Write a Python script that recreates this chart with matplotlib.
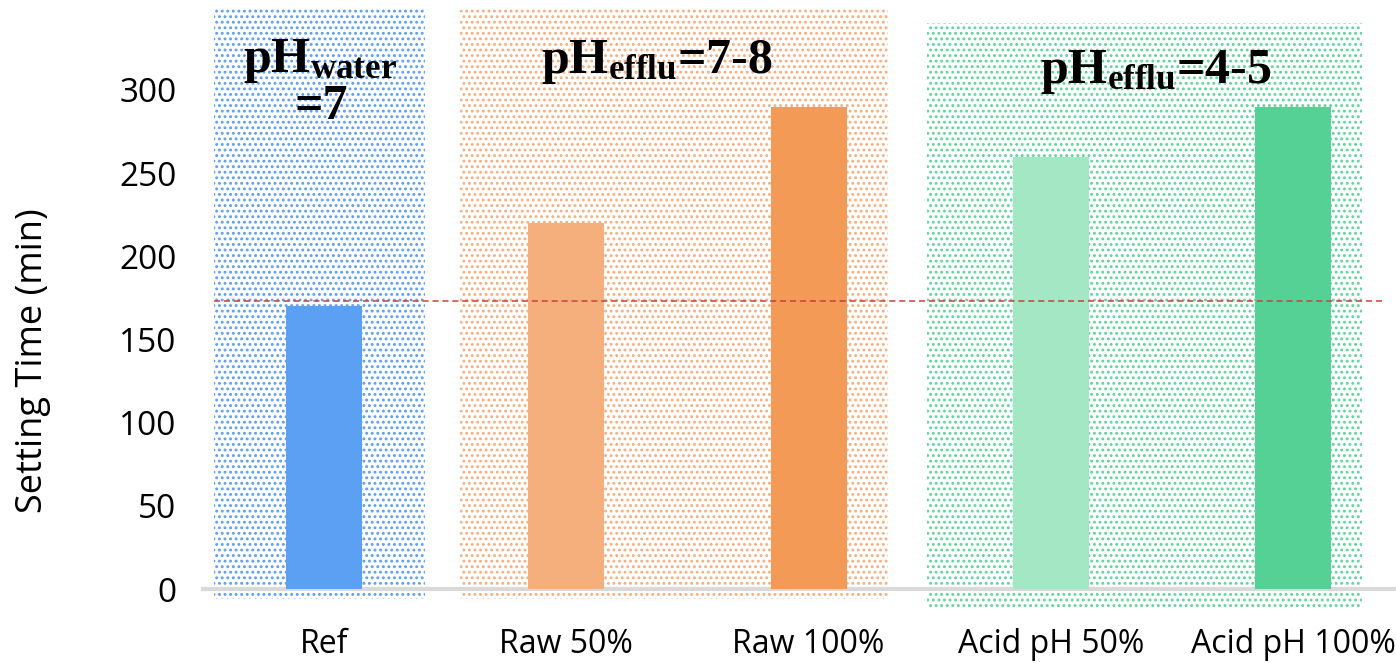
import matplotlib
matplotlib.use("Agg")
import matplotlib.pyplot as plt
from matplotlib.patches import Rectangle

plt.rcParams["font.family"] = ["Open Sans", "DejaVu Sans"]
plt.rcParams["mathtext.fontset"] = "custom"
plt.rcParams["mathtext.rm"] = "Liberation Serif:bold"
plt.rcParams["mathtext.bf"] = "Liberation Serif:bold"
plt.rcParams["mathtext.it"] = "Liberation Serif:bold"
plt.rcParams["hatch.linewidth"] = 1.3

# data
categories = ["Ref", "Raw 50%", "Raw 100%", "Acid pH 50%", "Acid pH 100%"]
setting_time = [170, 220, 290, 260, 290]
ref_line = 173
bar_colors = ["#5BA0F2", "#F5AF7C", "#F29A56", "#A3E7C5", "#56D196"]

group_titles = ["pH$_{\\mathrm{water}}$", "pH$_{\\mathrm{efflu}}$=7-8", "pH$_{\\mathrm{efflu}}$=4-5"]
group_members = [[0], [1, 2], [3, 4]]
group_colors = ["#5C9EF0", "#F5AE7E", "#5FD49C"]

# layout (data units around the category index)
group_left_pad = [0.454, 0.439, 0.511]
group_right_pad = [0.417, 0.328, 0.285]
group_top = [349, 349, 340]
group_bottom = [-6, -6, -11]

W, H = 1396, 663
fig = plt.figure(figsize=(W / 100, H / 100), dpi=100)
ax = fig.add_axes([203 / W, 74 / H, (W - 203) / W, 582.2 / H])

x = list(range(len(categories)))

# dotted group backgrounds
for members, col, lp, rp, top, bot in zip(group_members, group_colors,
                                           group_left_pad, group_right_pad,
                                           group_top, group_bottom):
    x0 = members[0] - lp
    x1 = members[-1] + rp
    rect = Rectangle((x0, bot), x1 - x0, top - bot, facecolor="none",
                     edgecolor=col, hatch="...", linewidth=0,
                     clip_on=False, zorder=1)
    ax.add_patch(rect)

ax.axhline(0, color="#D9D9D9", linewidth=3, zorder=2, clip_on=False)

ax.bar(x, setting_time, width=0.314, color=bar_colors, zorder=3)

ax.hlines(ref_line, -0.454, 4.38, colors="#C8423A", linestyles=(0, (4, 2.5)),
          linewidth=1.1, zorder=4)

ax.set_xlim(-0.5, 4.425)
ax.set_ylim(0, 350)
ax.set_yticks([0, 50, 100, 150, 200, 250, 300])
ax.set_xticks(x)
ax.set_xticklabels(categories)
ax.tick_params(axis="y", length=0, pad=19, labelsize=24, labelcolor="black")
ax.tick_params(axis="x", length=0, pad=28, labelsize=23, labelcolor="black")
for s in ax.spines.values():
    s.set_visible(False)
ax.patch.set_alpha(0)

fig.text(33 / W, 1 - 361 / H, "Setting Time (min)", rotation=90,
         ha="center", va="center", fontsize=26, color="black")

title_kw = dict(fontfamily="Liberation Serif", fontweight="bold", fontsize=36,
                ha="center", va="baseline", color="black")
fig.text(320 / W, 1 - 72 / H, group_titles[0], **title_kw)
fig.text(321 / W, 1 - 119 / H, "=7", **title_kw)
fig.text(657 / W, 1 - 73 / H, group_titles[1], **title_kw)
fig.text(1156 / W, 1 - 83 / H, group_titles[2], **title_kw)

fig.savefig("out.png", dpi=100)
